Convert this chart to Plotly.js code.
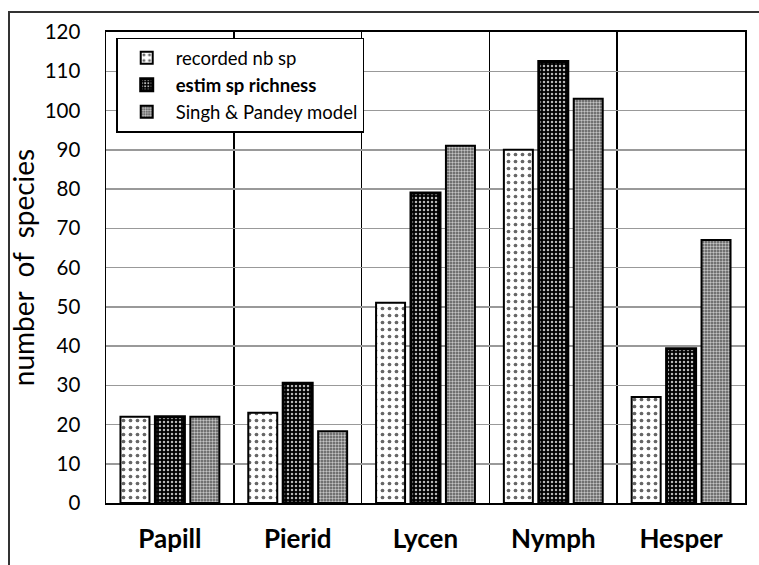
<!DOCTYPE html>
<html>
<head>
<meta charset="utf-8">
<script src="https://cdn.plot.ly/plotly-3.0.1.min.js"></script>
<style>
  html, body { margin: 0; padding: 0; background: #fff; }
  #frame { position: absolute; left: 8px; top: 11px; width: 800px; height: 600px;
           border-left: 2px solid #333; border-top: 2px solid #333; }
  #chart { position: absolute; left: 0; top: 0; width: 759px; height: 565px; }
</style>
</head>
<body>
<div id="frame"></div>
<div id="chart"></div>
<script>
const categories = ["Papill", "Pierid", "Lycen", "Nymph", "Hesper"];
const recorded = [22, 23, 51, 90, 27];
const estimated = [22, 30.5, 79, 112.5, 39.3];
const singhPandey = [22, 18.3, 91, 103, 67];
const seriesNames = ["recorded nb sp", "<b>estim sp richness</b>", "Singh &amp; Pandey model"];
const yTicks = [0, 10, 20, 30, 40, 50, 60, 70, 80, 90, 100, 110, 120];

const FONT = "Lato, 'Open Sans', sans-serif";

const traces = [
  {
    type: "bar", x: categories, y: recorded, name: seriesNames[0],
    marker: {
      color: "#ffffff",
      line: { color: "#000", width: 2 },
      pattern: { shape: ".", fgcolor: "#666", bgcolor: "#ffffff", size: 7, solidity: 0.22, fillmode: "replace" }
    }
  },
  {
    type: "bar", x: categories, y: estimated, name: seriesNames[1],
    marker: {
      color: "#000000",
      line: { color: "#000", width: 3 },
      pattern: { shape: ".", fgcolor: "#b8b8b8", bgcolor: "#000000", size: 4, solidity: 0.3, fillmode: "replace" }
    }
  },
  {
    type: "bar", x: categories, y: singhPandey, name: seriesNames[2],
    marker: {
      color: "#777",
      line: { color: "#000", width: 2 },
      pattern: { shape: ".", fgcolor: "#c4c4c4", bgcolor: "#555555", size: 3, solidity: 0.5, fillmode: "replace" }
    }
  }
];

const layout = {
  width: 759, height: 565,
  margin: { l: 106, r: 14, t: 32, b: 62 },
  paper_bgcolor: "rgba(0,0,0,0)",
  plot_bgcolor: "#ffffff",
  barmode: "group",
  bargap: 0.18,
  bargroupgap: 0.17,
  font: { family: FONT, color: "#000" },
  showlegend: true,
  legend: {
    x: 0.016, y: 0.988, xanchor: "left", yanchor: "top",
    bgcolor: "#ffffff", bordercolor: "#000", borderwidth: 1.5,
    font: { family: FONT, size: 18.5, color: "#000" },
    itemwidth: 48,
    tracegroupgap: 0
  },
  xaxis: {
    type: "category",
    tickson: "boundaries",
    showgrid: true, gridcolor: "#000", gridwidth: 1.5,
    showline: true, linecolor: "#000", linewidth: 2, mirror: true,
    ticks: "",
    tickfont: { family: FONT, size: 26, weight: "bold", color: "#000" },
    ticklabelstandoff: 12,
    fixedrange: true
  },
  yaxis: {
    range: [0, 120],
    tickvals: yTicks,
    ticktext: yTicks.map(String),
    showgrid: true, gridcolor: "#999", gridwidth: 1.5,
    zeroline: false,
    showline: true, linecolor: "#000", linewidth: 1.5, mirror: true,
    ticks: "",
    tickfont: { family: FONT, size: 20.5, color: "#000" },
    ticklabelstandoff: 20,
    title: { text: "number  of  species", font: { family: FONT, size: 28, color: "#000" }, standoff: 2 },
    fixedrange: true
  }
};

Plotly.newPlot("chart", traces, layout, { displayModeBar: false, staticPlot: true });
</script>
</body>
</html>
